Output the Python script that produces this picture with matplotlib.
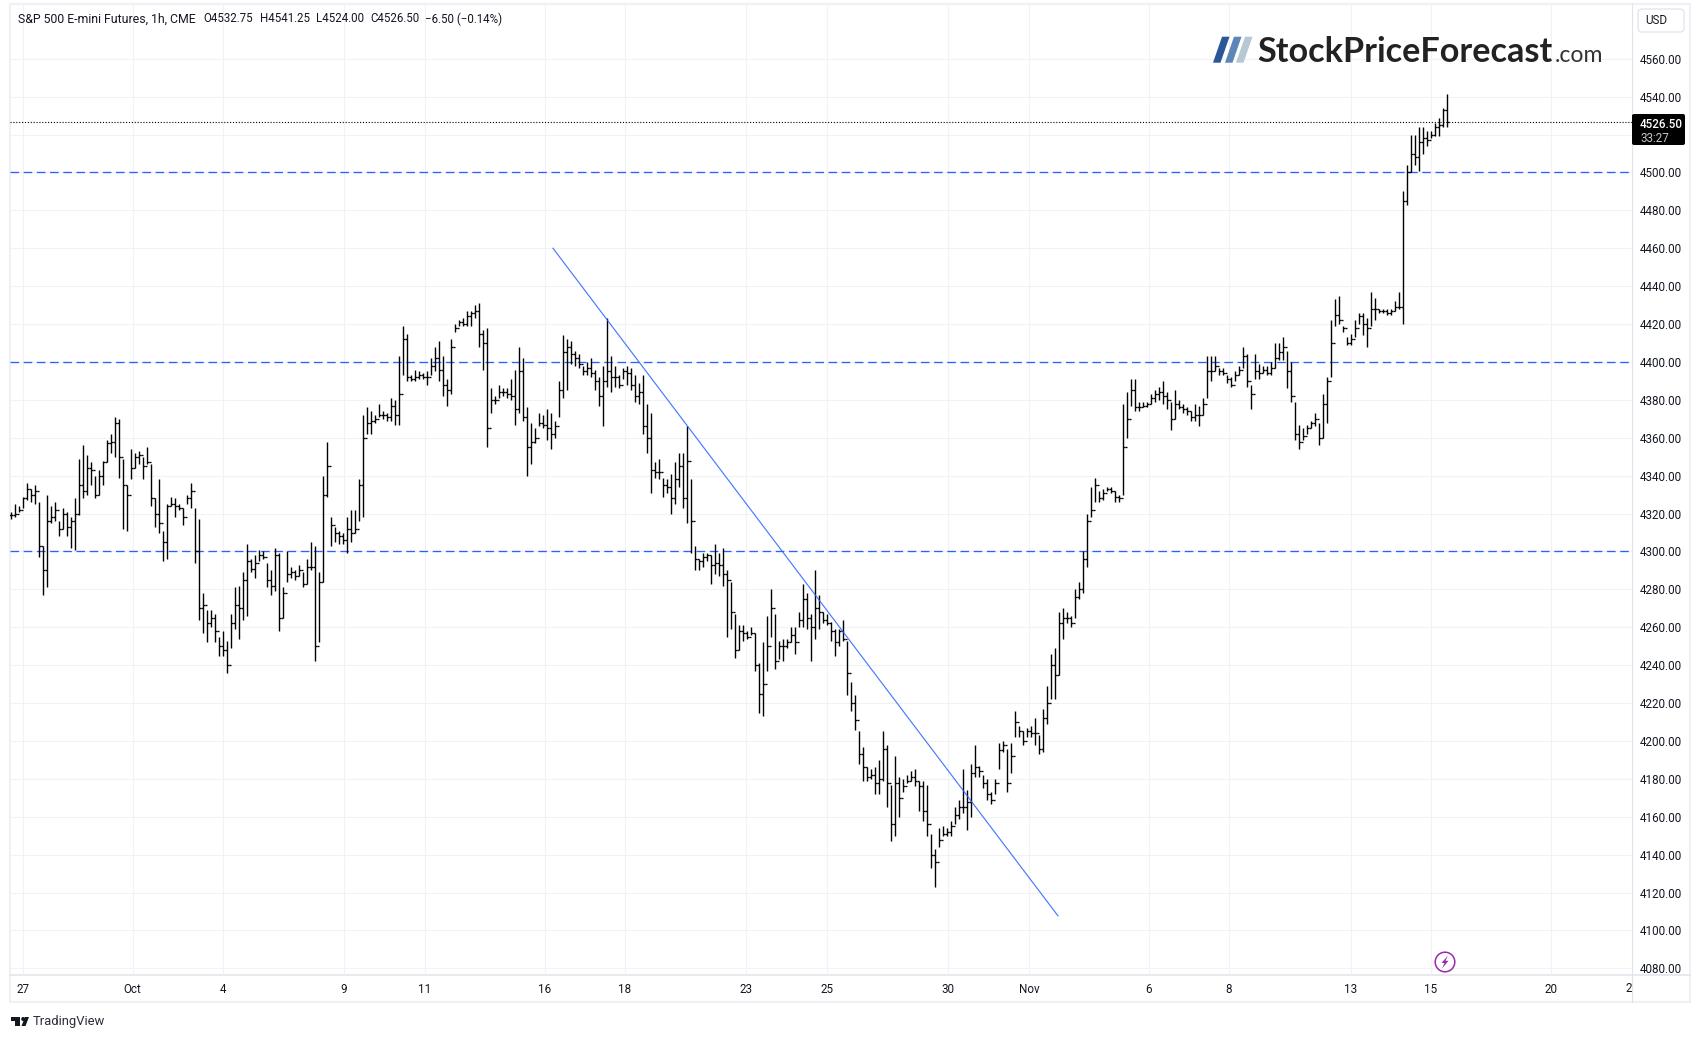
#!/usr/bin/env python3
"""S&P 500 E-mini futures hourly bars, TradingView style."""

import matplotlib

matplotlib.use("Agg")
import matplotlib.pyplot as plt
import numpy as np
from matplotlib.patches import Circle, FancyBboxPatch, Polygon, Rectangle

# values, one entry per drawn bar
highs = [
    4321, 4325, 4324, 4329, 4336, 4333, 4335, 4326, 4303, 4330, 4324, 4326, 4316, 4323, 4321,
    4318, 4328, 4349, 4356, 4351, 4347, 4340, 4343, 4348, 4359, 4362, 4371, 4370, 4349, 4335,
    4354, 4352, 4353, 4350, 4355, 4346, 4328, 4338, 4311, 4325, 4329, 4328, 4325, 4323, 4330,
    4336, 4323, 4317, 4278, 4269, 4269, 4267, 4255, 4258, 4253, 4267, 4281, 4282, 4289, 4304,
    4296, 4298, 4301, 4300, 4294, 4290, 4302, 4299, 4281, 4300, 4292, 4290, 4293, 4289, 4296,
    4305, 4303, 4289, 4340, 4358, 4318, 4313, 4311, 4310, 4318, 4322, 4322, 4338, 4372, 4376,
    4374, 4372, 4378, 4374, 4373, 4381, 4380, 4403, 4419, 4415, 4393, 4396, 4395, 4394, 4395,
    4402, 4408, 4411, 4403, 4391, 4412, 4420, 4422, 4423, 4427, 4427, 4430, 4431, 4417, 4418,
    4386, 4382, 4388, 4386, 4386, 4391, 4396, 4408, 4402, 4376, 4368, 4365, 4373, 4372, 4375,
    4373, 4369, 4390, 4414, 4412, 4411, 4406, 4404, 4398, 4400, 4402, 4396, 4392, 4398, 4423,
    4403, 4398, 4393, 4397, 4398, 4397, 4393, 4389, 4393, 4378, 4373, 4347, 4349, 4339, 4338,
    4341, 4347, 4352, 4352, 4366, 4338, 4303, 4296, 4299, 4299, 4298, 4304, 4299, 4302, 4290,
    4284, 4267, 4261, 4261, 4258, 4260, 4257, 4241, 4252, 4266, 4280, 4267, 4253, 4254, 4254,
    4260, 4260, 4268, 4283, 4278, 4267, 4290, 4277, 4268, 4267, 4263, 4259, 4259, 4264, 4253,
    4231, 4224, 4205, 4197, 4186, 4185, 4186, 4190, 4205, 4198, 4177, 4192, 4181, 4180, 4182,
    4184, 4185, 4179, 4179, 4177, 4151, 4143, 4154, 4155, 4154, 4158, 4165, 4169, 4185, 4174,
    4188, 4198, 4187, 4182, 4180, 4173, 4180, 4199, 4200, 4196, 4199, 4216, 4208, 4205, 4207,
    4208, 4212, 4203, 4217, 4229, 4246, 4249, 4268, 4270, 4268, 4266, 4280, 4284, 4300, 4320,
    4334, 4339, 4332, 4333, 4334, 4334, 4332, 4330, 4378, 4384, 4391, 4391, 4379, 4379, 4379,
    4383, 4385, 4387, 4390, 4384, 4379, 4385, 4380, 4378, 4376, 4374, 4378, 4377, 4381, 4403,
    4403, 4403, 4397, 4397, 4393, 4392, 4395, 4398, 4408, 4404, 4388, 4404, 4399, 4398, 4398,
    4400, 4410, 4410, 4413, 4406, 4400, 4379, 4367, 4365, 4367, 4369, 4373, 4368, 4383, 4392,
    4422, 4433, 4435, 4419, 4413, 4415, 4422, 4426, 4426, 4423, 4437, 4434, 4428, 4428, 4428,
    4428, 4432, 4437, 4490, 4504, 4520, 4520, 4524, 4524, 4522, 4522, 4526, 4529, 4534, 4541.25,
]
lows = [
    4317, 4318, 4321, 4323, 4327, 4326, 4325, 4297, 4277, 4281, 4315, 4316, 4308, 4312, 4308,
    4302, 4301, 4319, 4328, 4330, 4335, 4328, 4330, 4335, 4347, 4352, 4350, 4339, 4312, 4311,
    4338, 4344, 4346, 4338, 4346, 4324, 4313, 4310, 4295, 4296, 4324, 4318, 4322, 4314, 4325,
    4323, 4294, 4264, 4257, 4252, 4260, 4252, 4245, 4245, 4236, 4249, 4259, 4254, 4264, 4266,
    4289, 4286, 4295, 4296, 4281, 4277, 4279, 4258, 4265, 4284, 4286, 4285, 4287, 4281, 4283,
    4290, 4242, 4252, 4284, 4329, 4303, 4305, 4304, 4304, 4299, 4305, 4310, 4316, 4318, 4362,
    4362, 4368, 4371, 4370, 4369, 4369, 4367, 4367, 4393, 4390, 4390, 4390, 4391, 4391, 4388,
    4393, 4395, 4390, 4382, 4377, 4383, 4416, 4419, 4419, 4419, 4419, 4423, 4408, 4396, 4355,
    4373, 4378, 4381, 4382, 4381, 4380, 4367, 4373, 4369, 4340, 4346, 4357, 4366, 4365, 4359,
    4354, 4360, 4371, 4381, 4385, 4399, 4398, 4397, 4393, 4393, 4392, 4385, 4377, 4366, 4387,
    4384, 4387, 4386, 4391, 4388, 4385, 4379, 4378, 4362, 4352, 4331, 4339, 4338, 4329, 4331,
    4320, 4325, 4334, 4323, 4315, 4299, 4290, 4290, 4292, 4295, 4283, 4288, 4287, 4282, 4255,
    4259, 4244, 4248, 4253, 4254, 4256, 4237, 4215, 4213, 4237, 4255, 4238, 4243, 4242, 4249,
    4252, 4246, 4260, 4260, 4259, 4242, 4254, 4259, 4262, 4261, 4253, 4245, 4250, 4253, 4224,
    4216, 4206, 4188, 4179, 4179, 4180, 4172, 4172, 4179, 4165, 4147, 4150, 4160, 4173, 4178,
    4179, 4176, 4163, 4158, 4150, 4133, 4123, 4144, 4150, 4150, 4150, 4156, 4159, 4162, 4153,
    4160, 4181, 4181, 4175, 4169, 4167, 4172, 4185, 4194, 4173, 4183, 4202, 4202, 4198, 4202,
    4202, 4198, 4193, 4194, 4209, 4222, 4222, 4235, 4254, 4262, 4260, 4265, 4275, 4278, 4292,
    4318, 4326, 4326, 4327, 4332, 4331, 4326, 4326, 4330, 4360, 4377, 4374, 4374, 4376, 4376,
    4378, 4379, 4380, 4378, 4375, 4364, 4370, 4375, 4373, 4372, 4369, 4369, 4366, 4372, 4381,
    4390, 4395, 4393, 4393, 4389, 4387, 4390, 4393, 4397, 4387, 4375, 4391, 4391, 4394, 4393,
    4393, 4397, 4401, 4401, 4386, 4379, 4359, 4354, 4359, 4362, 4365, 4366, 4356, 4360, 4368,
    4392, 4419, 4420, 4416, 4409, 4409, 4413, 4420, 4414, 4408, 4419, 4422, 4426, 4426, 4425,
    4425, 4427, 4428, 4420, 4483, 4500, 4504, 4501, 4510, 4514, 4518, 4519, 4519, 4524, 4524,
]
closes = [
    4319, 4320, 4322, 4328, 4333, 4330, 4332, 4303, 4290, 4316, 4318, 4322, 4312, 4320, 4313,
    4316, 4320, 4335, 4332, 4344, 4343, 4330, 4340, 4347, 4357, 4358, 4368, 4350, 4335, 4330,
    4344, 4350, 4351, 4345, 4347, 4328, 4320, 4315, 4305, 4324, 4325, 4324, 4323, 4318, 4328,
    4332, 4300, 4270, 4272, 4262, 4265, 4258, 4250, 4248, 4240, 4262, 4272, 4270, 4285, 4295,
    4291, 4294, 4298, 4297, 4285, 4282, 4298, 4265, 4278, 4288, 4289, 4287, 4290, 4283, 4292,
    4292, 4250, 4284, 4330, 4345, 4314, 4310, 4308, 4306, 4312, 4310, 4312, 4335, 4360, 4368,
    4369, 4370, 4372, 4372, 4371, 4377, 4372, 4383, 4412, 4392, 4391, 4392, 4393, 4392, 4392,
    4398, 4402, 4396, 4388, 4385, 4408, 4418, 4421, 4420, 4424, 4426, 4427, 4415, 4410, 4365,
    4380, 4380, 4384, 4384, 4383, 4382, 4375, 4395, 4371, 4355, 4358, 4360, 4368, 4367, 4365,
    4362, 4366, 4385, 4405, 4408, 4404, 4402, 4399, 4395, 4397, 4394, 4390, 4382, 4390, 4395,
    4392, 4392, 4388, 4395, 4394, 4388, 4382, 4384, 4366, 4360, 4343, 4342, 4342, 4335, 4334,
    4328, 4338, 4345, 4328, 4348, 4316, 4296, 4295, 4297, 4298, 4293, 4294, 4293, 4288, 4285,
    4268, 4248, 4258, 4257, 4255, 4257, 4240, 4225, 4230, 4250, 4270, 4242, 4250, 4250, 4252,
    4256, 4252, 4264, 4275, 4265, 4260, 4270, 4268, 4264, 4262, 4258, 4252, 4258, 4254, 4236,
    4220, 4211, 4193, 4186, 4181, 4182, 4178, 4180, 4196, 4178, 4156, 4178, 4170, 4176, 4179,
    4181, 4179, 4176, 4163, 4156, 4140, 4136, 4148, 4151, 4152, 4155, 4161, 4165, 4165, 4168,
    4183, 4186, 4184, 4178, 4172, 4169, 4178, 4195, 4198, 4178, 4192, 4210, 4205, 4200, 4205,
    4204, 4204, 4196, 4212, 4220, 4240, 4235, 4262, 4265, 4265, 4262, 4276, 4280, 4296, 4316,
    4322, 4335, 4328, 4331, 4333, 4332, 4329, 4328, 4355, 4370, 4385, 4376, 4376, 4377, 4378,
    4381, 4383, 4384, 4382, 4380, 4370, 4378, 4376, 4375, 4374, 4371, 4372, 4372, 4378, 4395,
    4395, 4398, 4395, 4394, 4391, 4388, 4393, 4396, 4403, 4390, 4383, 4395, 4394, 4396, 4394,
    4397, 4402, 4405, 4408, 4395, 4382, 4362, 4358, 4361, 4365, 4368, 4370, 4360, 4378, 4390,
    4410, 4425, 4422, 4418, 4410, 4412, 4418, 4424, 4420, 4418, 4428, 4428, 4427, 4427, 4426,
    4427, 4429, 4429, 4485, 4500, 4510, 4508, 4516, 4518, 4517, 4520, 4524, 4525, 4532.75, 4526.5,
]

price_ticks = list(range(4080, 4561, 20))
date_labels = ["27", "Oct", "4", "9", "11", "16", "18", "23", "25", "30", "Nov", "6", "8", "13", "15", "20"]
date_bars = [2.9, 30.4, 53, 83.25, 103.4, 133.5, 153.5, 183.75, 204, 234.25, 254.5, 284.5, 304.5, 335, 355, 385]
level_lines = [4500, 4400, 4300]
last_price = 4526.5
trend_bars = [135.5, 261.75]
trend_prices = [4460, 4107.7]

GRID = "#f1f2f6"
BORDER = "#e0e3eb"
FRAME = "#f0f1f6"
BLUE = "#2962ff"
INK = "#131722"

plt.rcParams["font.family"] = ["Roboto", "DejaVu Sans"]

fig = plt.figure(figsize=(17, 10.38), dpi=100, facecolor="white")

# overlay in pixel coordinates for the page furniture
page = fig.add_axes([0, 0, 1, 1], zorder=0)
page.set_xlim(0, 1700)
page.set_ylim(1038, 0)
page.axis("off")

page.add_patch(Rectangle((10, 4), 1680, 998, fill=False, ec=FRAME, lw=1.6))
page.plot([1632, 1632], [4, 1002], color=BORDER, lw=0.8)
page.plot([10, 1690], [975, 975], color=BORDER, lw=1.1)

# chart area: left 10px, right 1632px, top 4px, bottom 975px
ax = fig.add_axes([10 / 1700, 1 - 975 / 1038, 1622 / 1700, 971 / 1038], zorder=1)
ax.patch.set_alpha(0)
ax.set_xlim(-0.25, 405.25)
ax.set_ylim(4076.5, 4588.9)
for side in ax.spines.values():
    side.set_visible(False)

ax.set_axisbelow(True)
ax.grid(True, color=GRID, lw=0.8)
ax.yaxis.tick_right()
ax.set_yticks(price_ticks)
# the 4520 label sits under the last-price tag
ax.set_yticklabels(["" if p == 4520 else f"{p:.2f}" for p in price_ticks], fontsize=8.4, color=INK)
ax.set_xticks(date_bars)
ax.set_xticklabels(date_labels, fontsize=8.4, color=INK)
ax.tick_params(axis="both", length=0)
ax.tick_params(axis="y", pad=5.5)
ax.tick_params(axis="x", pad=5.8)

for level in level_lines:
    ax.axhline(level, color=BLUE, lw=0.95, dashes=(6.5, 3.5))
ax.axhline(last_price, color="black", lw=0.8, dashes=(1, 1.6))

bars = np.arange(len(closes))
opens = np.r_[closes[0], closes[:-1]]
ax.vlines(bars, lows, highs, color="black", lw=1.0)
ax.hlines(closes, bars, bars + 0.5, color="black", lw=0.95)
ax.hlines(opens, bars - 0.5, bars, color="black", lw=0.95)

ax.plot(trend_bars, trend_prices, color=BLUE, lw=0.85, alpha=0.85, zorder=3)

# overlay on top for header, logo and price tags
top = fig.add_axes([0, 0, 1, 1], zorder=2)
top.set_xlim(0, 1700)
top.set_ylim(1038, 0)
top.axis("off")

top.text(18, 19, "S&P 500 E-mini Futures, 1h, CME", fontsize=8.85, color=INK, va="center", ha="left")
header = [
    (203.5, "O4532.75"),
    (260.5, "H4541.25"),
    (316.5, "L4524.00"),
    (370.5, "C4526.50"),
    (425.5, "\u22126.50 (\u22120.14%)"),
]
for xpos, piece in header:
    top.text(xpos, 19, piece, fontsize=8.3, color=INK, va="center", ha="left")

# logo stripes
for offs, col in zip((0, 12, 23), ("#2b5797", "#5b86b8", "#b7c7d3")):
    top.add_patch(Polygon(
        [(1213 + offs, 62.7), (1222 + offs, 36.7), (1229.5 + offs, 36.7), (1220.5 + offs, 62.7)],
        closed=True, fc=col, ec="none",
    ))
top.text(1257, 62.5, "StockPriceForecast", fontsize=24.7, color="#222222",
         family="Lato", weight="bold", ha="left", va="baseline")
top.text(1555, 62.5, ".com", fontsize=16.6, color="#333333",
         family="Lato", ha="left", va="baseline")

# price scale furniture
top.add_patch(FancyBboxPatch((1638, 9), 46, 23, boxstyle="round,pad=0,rounding_size=4",
                             fc="white", ec=BORDER, lw=0.9))
top.text(1656, 20.5, "USD", fontsize=8.4, color=INK, ha="center", va="center")
top.add_patch(FancyBboxPatch((1632, 114), 53, 31, boxstyle="round,pad=0,rounding_size=2",
                             fc="black", ec="none"))
top.text(1640, 124, "4526.50", fontsize=8.4, color="white", ha="left", va="center", weight="medium")
top.text(1640, 138, "33:27", fontsize=8.4, color="#c8c8c8", ha="left", va="center")

# cut off date label at the price scale edge
top.text(1629, 988.5, "2", fontsize=8.4, color=INK, ha="center", va="center")

# session icon
top.add_patch(Circle((1445, 962), 9.8, fc="white", ec="#9c27b0", lw=1.1))
top.add_patch(Polygon(
    [(1448, 955.5), (1441.5, 963), (1444.5, 963), (1442, 968.5), (1448.5, 960.8), (1445.5, 960.8)],
    closed=True, fc="#9c27b0", ec="none",
))

# TradingView mark
top.add_patch(Polygon([(11, 1017), (20, 1017), (20, 1026), (15.5, 1026), (15.5, 1021), (11, 1021)],
                      closed=True, fc=INK, ec="none"))
top.add_patch(Circle((23.2, 1019), 2, fc=INK, ec="none"))
top.add_patch(Polygon([(25, 1017), (29, 1017), (25.5, 1026), (21.5, 1026)],
                      closed=True, fc=INK, ec="none"))
top.text(33, 1021, "TradingView", fontsize=9.4, color="#2a2e39", ha="left", va="center")

fig.savefig("out.png", dpi=100)
